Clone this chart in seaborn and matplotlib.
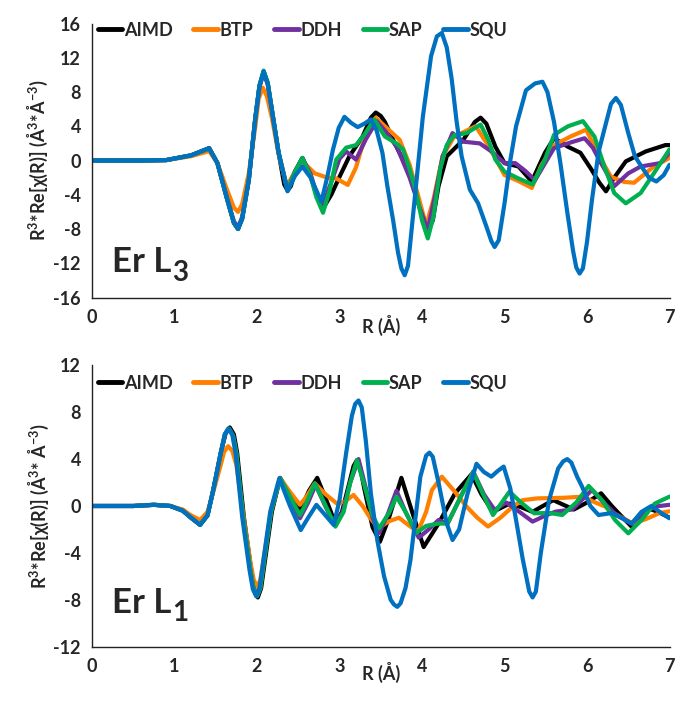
import numpy as np
import pandas as pd
import matplotlib
matplotlib.use("Agg")
import matplotlib.pyplot as plt
import seaborn as sns

sns.set_style("white")
plt.rcParams['font.family'] = ['Lato', 'DejaVu Sans']
plt.rcParams['mathtext.fontset'] = 'custom'
plt.rcParams['mathtext.rm'] = 'Lato:bold'
plt.rcParams['mathtext.bf'] = 'Lato:bold'
plt.rcParams['mathtext.it'] = 'Lato:bold:italic'

series_names = ["AIMD", "BTP", "DDH", "SAP", "SQU"]
series_colors = ["#000000", "#FF7F00", "#7030A0", "#00B050", "#0070C0"]

# ---------------- Er L3 (top) ----------------
l3_aimd_r = [0, 0.6, 0.9, 1.2, 1.42, 1.52, 1.64, 1.72, 1.77, 1.82, 1.9, 1.98, 2.03, 2.08, 2.13, 2.18, 2.26, 2.33, 2.37, 2.41, 2.46, 2.55, 2.65, 2.72, 2.8, 2.9, 3.0, 3.12, 3.28, 3.38, 3.44, 3.5, 3.55, 3.65, 3.85, 3.97, 4.03, 4.08, 4.13, 4.2, 4.3, 4.5, 4.64, 4.71, 4.78, 4.89, 5.0, 5.17, 5.33, 5.49, 5.6, 5.77, 5.92, 6.05, 6.15, 6.23, 6.33, 6.47, 6.71, 6.95, 7.0]
l3_aimd_v = [0, 0, 0.05, 0.6, 1.45, -0.3, -4.6, -7.3, -8.0, -6.8, -2.3, 5.0, 8.7, 10.4, 9.0, 5.9, 1.0, -2.8, -3.5, -3.0, -1.3, 0.3, -1.8, -4.0, -5.6, -4.0, -1.9, 0.5, 2.8, 5.0, 5.6, 5.2, 4.5, 2.4, -1.5, -5.0, -7.3, -8.0, -7.0, -3.0, 0.5, 2.4, 4.5, 5.0, 4.3, 1.6, -0.3, -0.7, -2.45, 0.9, 2.6, 1.6, 0.9, -1.0, -2.6, -3.6, -2.0, -0.1, 1.05, 1.8, 1.8]

l3_btp_r = [0, 0.6, 0.9, 1.2, 1.42, 1.52, 1.64, 1.72, 1.77, 1.82, 1.9, 1.98, 2.02, 2.07, 2.12, 2.18, 2.26, 2.36, 2.46, 2.56, 2.7, 2.85, 2.96, 3.1, 3.2, 3.32, 3.44, 3.55, 3.73, 3.85, 3.95, 4.05, 4.14, 4.25, 4.39, 4.5, 4.65, 4.8, 5.0, 5.17, 5.33, 5.45, 5.6, 5.8, 5.99, 6.12, 6.29, 6.45, 6.57, 6.81, 7.0]
l3_btp_v = [0, 0, 0.05, 0.5, 1.1, -0.3, -3.5, -5.5, -6.0, -5.1, -1.5, 4.0, 7.2, 8.5, 7.5, 5.0, 0.8, -3.0, -1.3, -0.2, -1.5, -2.0, -2.1, -2.85, -0.8, 3.2, 5.0, 4.0, 2.4, -0.5, -4.0, -7.6, -4.5, 0.5, 2.8, 3.3, 4.0, 1.8, -1.7, -2.4, -3.2, -0.5, 1.8, 2.8, 3.6, 1.0, -1.9, -2.5, -2.6, -0.7, 0.3]

l3_ddh_r = [0, 0.6, 0.9, 1.2, 1.42, 1.52, 1.64, 1.72, 1.77, 1.82, 1.9, 1.98, 2.03, 2.08, 2.13, 2.18, 2.26, 2.37, 2.46, 2.55, 2.65, 2.72, 2.8, 2.9, 3.0, 3.08, 3.2, 3.32, 3.45, 3.55, 3.7, 3.85, 3.97, 4.07, 4.16, 4.25, 4.37, 4.5, 4.7, 4.85, 5.0, 5.13, 5.25, 5.37, 5.48, 5.6, 5.8, 5.97, 6.07, 6.17, 6.33, 6.5, 6.65, 6.89, 7.0]
l3_ddh_v = [0, 0, 0.05, 0.6, 1.4, -0.3, -4.5, -7.1, -7.8, -6.6, -2.3, 5.0, 8.6, 10.2, 8.9, 5.9, 1.0, -3.4, -1.3, 0.3, -1.6, -3.8, -5.2, -2.5, 0.2, 1.06, 0.1, 2.5, 4.6, 3.5, 1.5, -2.0, -5.5, -8.1, -4.0, 0.5, 3.2, 2.2, 2.0, 1.0, -0.3, -0.3, -1.2, -2.3, -0.5, 1.45, 2.1, 2.6, 1.5, -0.3, -3.0, -1.5, -0.7, -0.3, 0.9]

l3_sap_r = [0, 0.6, 0.9, 1.2, 1.42, 1.52, 1.64, 1.72, 1.77, 1.82, 1.9, 1.98, 2.03, 2.08, 2.13, 2.18, 2.26, 2.37, 2.46, 2.55, 2.65, 2.72, 2.8, 2.88, 2.96, 3.08, 3.2, 3.3, 3.42, 3.55, 3.69, 3.77, 3.85, 3.93, 4.0, 4.07, 4.14, 4.22, 4.3, 4.39, 4.54, 4.71, 4.8, 4.89, 5.0, 5.17, 5.34, 5.49, 5.6, 5.77, 5.95, 6.09, 6.21, 6.33, 6.47, 6.65, 6.81, 7.0]
l3_sap_v = [0, 0, 0.05, 0.6, 1.4, -0.3, -4.6, -7.3, -8.0, -6.8, -2.3, 5.0, 8.8, 10.5, 9.1, 6.0, 1.0, -3.5, -1.3, 0.3, -1.9, -4.3, -6.1, -3.5, 0.1, 1.5, 1.8, 3.0, 4.8, 2.8, 2.0, 1.3, -1.0, -3.8, -7.0, -9.1, -6.5, -1.0, 1.8, 2.95, 3.2, 4.2, 2.5, 0.1, -1.3, -2.1, -2.8, 0.1, 3.0, 4.0, 4.6, 2.8, -0.7, -3.8, -5.0, -3.8, -1.5, 1.3]

l3_squ_r = [0, 0.6, 0.9, 1.2, 1.42, 1.52, 1.64, 1.72, 1.77, 1.82, 1.9, 1.98, 2.03, 2.08, 2.13, 2.18, 2.26, 2.37, 2.46, 2.55, 2.65, 2.78, 2.85, 2.92, 2.99, 3.06, 3.14, 3.22, 3.3, 3.38, 3.45, 3.52, 3.58, 3.65, 3.71, 3.75, 3.79, 3.83, 3.91, 4.01, 4.11, 4.18, 4.24, 4.3, 4.36, 4.42, 4.48, 4.58, 4.68, 4.78, 4.84, 4.88, 4.93, 5.0, 5.07, 5.14, 5.26, 5.37, 5.46, 5.52, 5.6, 5.68, 5.76, 5.83, 5.87, 5.91, 5.95, 6.0, 6.06, 6.14, 6.22, 6.29, 6.35, 6.41, 6.5, 6.58, 6.66, 6.75, 6.84, 6.93, 7.0]
l3_squ_v = [0, 0, 0.05, 0.6, 1.45, -0.3, -4.6, -7.3, -8.0, -6.8, -2.3, 5.0, 8.7, 10.4, 9.0, 5.9, 1.0, -3.6, -1.8, -0.7, -2.0, -4.8, -2.0, 1.25, 3.8, 5.1, 4.4, 3.9, 4.3, 4.8, 3.5, 0.9, -3.0, -7.0, -10.8, -12.6, -13.4, -12.3, -4.6, 5.1, 12.2, 14.5, 14.9, 13.2, 9.5, 4.5, 0.5, -3.4, -5.0, -7.7, -9.4, -10.1, -9.3, -5.0, 0.0, 4.0, 8.2, 9.0, 9.2, 8.0, 4.5, -0.5, -6.0, -10.5, -12.5, -13.2, -12.6, -9.5, -4.6, 1.0, 4.0, 6.6, 7.3, 6.5, 3.2, 0.5, -0.7, -2.0, -2.45, -1.7, -0.5]

# ---------------- Er L1 (bottom) ----------------
l1_aimd_r = [0, 0.5, 0.75, 0.95, 1.1, 1.2, 1.31, 1.4, 1.47, 1.56, 1.62, 1.67, 1.72, 1.76, 1.84, 1.93, 1.97, 2.01, 2.05, 2.09, 2.18, 2.28, 2.4, 2.53, 2.63, 2.73, 2.84, 2.95, 3.03, 3.12, 3.17, 3.21, 3.25, 3.3, 3.4, 3.49, 3.6, 3.75, 3.88, 4.02, 4.2, 4.4, 4.6, 4.72, 4.86, 5.06, 5.2, 5.34, 5.59, 5.84, 6.0, 6.17, 6.3, 6.38, 6.54, 6.74, 6.86, 7.0]
l1_aimd_v = [0, 0, 0.1, 0, -0.4, -1.0, -1.6, -0.8, 1.4, 4.5, 6.2, 6.7, 6.1, 4.5, -0.9, -5.5, -7.2, -7.8, -7.0, -5.0, -0.5, 2.4, 1.0, -0.3, 1.3, 2.4, 0.5, -1.5, -0.5, 2.0, 3.4, 3.9, 3.3, 1.5, -1.8, -3.05, -1.0, 2.4, -0.5, -3.5, -1.5, 1.08, 2.7, 1.0, -0.5, 0.2, -0.1, -0.5, 0.5, -0.3, 0.3, 1.08, 0.0, -0.6, -1.76, -0.2, -0.5, -1.0]

l1_btp_r = [0, 0.5, 0.75, 0.95, 1.1, 1.2, 1.31, 1.4, 1.47, 1.56, 1.6, 1.65, 1.7, 1.75, 1.83, 1.92, 1.96, 2.0, 2.04, 2.08, 2.17, 2.28, 2.4, 2.52, 2.6, 2.7, 2.83, 2.97, 3.07, 3.17, 3.28, 3.37, 3.47, 3.6, 3.72, 3.83, 3.95, 4.05, 4.12, 4.24, 4.4, 4.54, 4.67, 4.8, 4.95, 5.1, 5.22, 5.4, 5.72, 5.95, 6.1, 6.22, 6.32, 6.56, 6.72, 6.88, 7.0]
l1_btp_v = [0, 0, 0.1, 0, -0.3, -0.8, -1.2, -0.5, 1.2, 3.5, 4.6, 5.1, 4.7, 3.5, -0.6, -4.8, -6.3, -6.9, -6.3, -4.5, -0.4, 2.36, 1.2, 0.1, 0.8, 1.93, 1.0, 0.2, 0.4, 0.94, 0.0, -1.0, -1.9, -1.3, -1.0, -1.6, -2.2, -0.5, 1.36, 2.5, 1.2, -0.05, -1.0, -1.75, -1.0, -0.05, 0.5, 0.65, 0.7, 0.8, 0.3, -0.05, -0.6, -1.5, -1.1, -0.6, -0.45]

l1_ddh_r = [0, 0.5, 0.75, 0.95, 1.1, 1.2, 1.31, 1.4, 1.47, 1.56, 1.61, 1.66, 1.71, 1.75, 1.83, 1.92, 1.96, 2.0, 2.04, 2.08, 2.17, 2.28, 2.4, 2.52, 2.62, 2.71, 2.82, 2.94, 3.04, 3.13, 3.23, 3.32, 3.4, 3.48, 3.58, 3.69, 3.8, 3.96, 4.08, 4.2, 4.31, 4.47, 4.62, 4.75, 4.88, 5.02, 5.18, 5.34, 5.5, 5.62, 5.82, 6.06, 6.2, 6.36, 6.54, 6.68, 6.82, 7.0]
l1_ddh_v = [0, 0, 0.1, 0, -0.4, -1.0, -1.6, -0.8, 1.36, 4.5, 6.1, 6.6, 6.0, 4.5, -0.9, -5.5, -7.1, -7.7, -7.0, -5.0, -0.5, 2.36, 0.7, -1.05, 0.3, 1.8, 0.1, -1.6, -0.5, 2.0, 4.0, 1.5, -1.0, -2.3, -0.8, 1.3, -0.5, -2.7, -2.0, -1.2, -1.5, 0.8, 2.93, 1.0, -0.34, 0.3, -0.5, -1.33, -0.8, -0.48, -0.3, 1.37, 0.3, -0.8, -1.5, -0.6, -0.05, 0.1]

l1_sap_r = [0, 0.5, 0.75, 0.95, 1.1, 1.2, 1.31, 1.4, 1.47, 1.56, 1.61, 1.66, 1.71, 1.75, 1.83, 1.92, 1.96, 2.0, 2.04, 2.08, 2.17, 2.28, 2.4, 2.52, 2.6, 2.7, 2.82, 2.95, 3.05, 3.13, 3.21, 3.3, 3.4, 3.48, 3.6, 3.69, 3.8, 3.93, 4.05, 4.2, 4.31, 4.47, 4.62, 4.74, 4.86, 5.06, 5.2, 5.36, 5.55, 5.7, 5.87, 6.02, 6.18, 6.34, 6.5, 6.66, 6.82, 7.0]
l1_sap_v = [0, 0, 0.1, 0, -0.4, -1.0, -1.6, -0.8, 1.36, 4.5, 6.1, 6.6, 6.0, 4.5, -0.9, -5.5, -7.1, -7.7, -7.0, -5.0, -0.5, 2.36, 0.8, -0.77, 0.3, 1.93, 0.2, -1.76, -0.5, 2.0, 3.9, 1.8, -0.8, -1.9, -0.6, 0.8, -0.5, -2.3, -1.7, -1.5, -1.5, 0.8, 2.9, 1.0, -0.77, 1.22, 0.3, -0.62, -0.6, -0.77, 0.3, 1.71, 0.5, -1.2, -2.33, -1.2, 0.2, 0.8]

l1_squ_r = [0, 0.5, 0.75, 0.95, 1.1, 1.2, 1.31, 1.4, 1.47, 1.56, 1.61, 1.65, 1.7, 1.74, 1.82, 1.91, 1.95, 1.99, 2.03, 2.07, 2.16, 2.27, 2.4, 2.53, 2.62, 2.72, 2.83, 2.93, 3.0, 3.08, 3.15, 3.19, 3.23, 3.27, 3.32, 3.38, 3.46, 3.54, 3.62, 3.66, 3.7, 3.74, 3.8, 3.86, 3.98, 4.05, 4.09, 4.13, 4.2, 4.3, 4.37, 4.45, 4.55, 4.66, 4.75, 4.84, 4.92, 4.99, 5.07, 5.14, 5.22, 5.3, 5.34, 5.38, 5.44, 5.54, 5.65, 5.71, 5.76, 5.81, 5.88, 5.94, 6.04, 6.14, 6.3, 6.42, 6.54, 6.66, 6.78, 6.9, 7.0]
l1_squ_v = [0, 0, 0.1, 0, -0.4, -1.0, -1.62, -0.8, 1.36, 4.5, 6.1, 6.6, 6.1, 4.5, -0.9, -5.5, -7.1, -7.7, -7.0, -5.0, -0.5, 2.36, 0.0, -2.05, -1.0, 0.1, -0.8, -1.62, 0.5, 4.5, 7.7, 8.7, 9.0, 8.4, 5.5, 1.08, -3.0, -6.0, -8.0, -8.4, -8.6, -8.3, -7.0, -4.6, 2.5, 4.3, 4.55, 4.2, 2.0, -1.5, -2.9, -2.0, 1.0, 3.6, 2.9, 2.5, 3.0, 3.36, 1.5, -1.19, -4.5, -7.3, -7.8, -7.3, -4.0, 0.5, 3.2, 3.8, 4.0, 3.7, 2.5, 1.65, 0.0, -0.77, -0.6, -1.0, -1.5, -0.5, 0.0, -0.6, -1.05]

top_r = [l3_aimd_r, l3_btp_r, l3_ddh_r, l3_sap_r, l3_squ_r]
top_v = [l3_aimd_v, l3_btp_v, l3_ddh_v, l3_sap_v, l3_squ_v]
bot_r = [l1_aimd_r, l1_btp_r, l1_ddh_r, l1_sap_r, l1_squ_r]
bot_v = [l1_aimd_v, l1_btp_v, l1_ddh_v, l1_sap_v, l1_squ_v]


def make_df(rs, vs):
    frames = []
    for name, r, v in zip(series_names, rs, vs):
        frames.append(pd.DataFrame({"R": r, "val": v, "series": name}))
    return pd.concat(frames, ignore_index=True)


fig = plt.figure(figsize=(6.78, 7.06), dpi=100)
ax_top = fig.add_axes([0.1357, 0.5786, 0.8518, 0.3881])
ax_bot = fig.add_axes([0.1357, 0.0840, 0.8518, 0.3986])

palette = dict(zip(series_names, series_colors))
tick_font = dict(fontsize=13, fontweight="bold")


def style_axis(ax, df, ylim, yticks, ylabel, panel_main, panel_sub, panel_y,
               legend_y, xlabelpad):
    sns.lineplot(data=df, x="R", y="val", hue="series", hue_order=series_names,
                 palette=palette, estimator=None, sort=False, linewidth=3.0,
                 ax=ax, legend=False, solid_joinstyle="round",
                 solid_capstyle="round")
    ax.set_xlim(0, 7)
    ax.set_ylim(*ylim)
    ax.set_xticks(range(0, 8))
    ax.set_yticks(yticks)
    ax.set_xticklabels([str(t) for t in range(0, 8)], **tick_font)
    ax.set_yticklabels([str(t) for t in yticks], **tick_font)
    for s in ["top", "right"]:
        ax.spines[s].set_visible(False)
    for s in ["left", "bottom"]:
        ax.spines[s].set_color("#222222")
        ax.spines[s].set_linewidth(1.0)
    ax.tick_params(axis="both", direction="inout", length=12, width=1.0,
                   color="#222222", pad=2)
    ax.set_xlabel("R (Å)", fontsize=13, fontweight="bold", labelpad=xlabelpad)
    ax.set_ylabel(ylabel, fontsize=13, fontweight="bold", labelpad=2)
    t = ax.text(0.24, panel_y, panel_main, fontsize=25, fontweight="bold",
                va="baseline", ha="left")
    ax.annotate(panel_sub, xy=(1, 0), xycoords=t, xytext=(1, -2),
                textcoords="offset points", fontsize=20, fontweight="bold",
                va="baseline", ha="left")
    handles = [plt.Line2D([], [], color=c, lw=3.5) for c in series_colors]
    ax.legend(handles, series_names, loc="center left",
              bbox_to_anchor=(0.01, legend_y), ncol=5, frameon=False,
              prop={"weight": "bold", "size": 13}, handlelength=1.35,
              handletextpad=0.1, columnspacing=1.15, borderpad=0,
              borderaxespad=0)


style_axis(ax_top, make_df(top_r, top_v), (-16, 16), list(range(-16, 17, 4)),
           r"R$^\mathbf{3}$*Re[χ(R)] (Å$^\mathbf{3}$*Å$^\mathbf{-3}$)",
           "Er L", "3", -13.0, 0.976, -8)
style_axis(ax_bot, make_df(bot_r, bot_v), (-12, 12), list(range(-12, 13, 4)),
           r"R$^\mathbf{3}$*Re[χ(R)] (Å$^\mathbf{3}$* Å$^\mathbf{-3}$)",
           "Er L", "1", -9.1, 0.937, -9)

fig.savefig("out.png", dpi=100, facecolor="white")
